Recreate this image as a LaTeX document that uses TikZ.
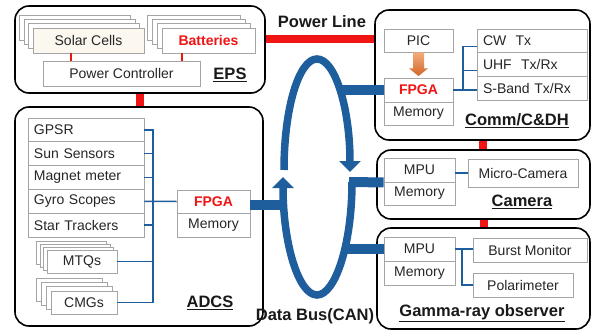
\documentclass[tikz,border=0pt]{standalone}
\usepackage{fontspec}
\setmainfont{Liberation Sans}
\usetikzlibrary{arrows.meta,calc}
\definecolor{busblue}{RGB}{30,94,156}
\definecolor{boxgray}{RGB}{165,165,165}
\definecolor{pwrred}{RGB}{240,20,20}
\definecolor{txtc}{RGB}{38,38,38}
\definecolor{solarfill}{RGB}{252,248,240}
\definecolor{orgtop}{RGB}{244,172,122}
\definecolor{orgbot}{RGB}{208,102,42}
\begin{document}
\begin{tikzpicture}[x=1pt,y=-1pt,
  cont/.style={draw=black,line width=1.6pt,rounded corners=14pt,fill=white,inner sep=0pt},
  unit/.style={draw=boxgray,line width=0.9pt,fill=white,inner sep=0pt,text=txtc,
               font=\fontsize{14}{16}\selectfont},
  lunit/.style={unit,align=left,text width=#1,inner xsep=6pt},
  back/.style={draw=boxgray,line width=0.9pt,fill=white},
  hot/.style={text=pwrred,font=\bfseries\fontsize{14}{16}\selectfont},
  tag/.style={font=\bfseries\fontsize{16.5}{18}\selectfont,text=black!90,inner sep=0pt},
  pline/.style={draw=pwrred,line width=8pt},
  plink/.style={draw=pwrred,line width=1.5pt},
  dbus/.style={draw=busblue,line width=10pt},
  ring/.style={draw=busblue,line width=7.5pt},
  sig/.style={draw=busblue,line width=1.5pt},
]
\useasboundingbox (0,0) rectangle (592,332);

% ---------- subsystem frames ----------
\node[cont,minimum width=250pt,minimum height=87pt] (eps) at (140,49.5) {};
\node[cont,minimum width=248pt,minimum height=219pt] (adcs) at (139,216.5) {};
\node[cont,minimum width=215pt,minimum height=130pt] (comm) at (482.5,75) {};
\node[cont,minimum width=213pt,minimum height=69pt] (cam) at (483.5,184.5) {};
\node[cont,minimum width=213pt,minimum height=101pt] (gam) at (483.5,278.5) {};

% ---------- power distribution ----------
\coordinate (plY) at (0,39);
\draw[pline] (eps.east |- plY) -- (comm.west |- plY);
\draw[pline] (eps.south) -- (eps.south |- adcs.north);
\draw[pline] (comm.south) -- (comm.south |- cam.north);
\draw[pline] (cam.south) -- (cam.south |- gam.north);

% ---------- EPS ----------
\foreach \k in {3,2,1}
  \filldraw[back] (33-4.5*\k,28-4.3*\k) rectangle (144-4.5*\k,53-4.3*\k);
\node[unit,fill=solarfill,minimum width=111pt,minimum height=25pt] (solar) at (88.5,40.5) {Solar Cells};
\foreach \k in {3,2,1}
  \filldraw[back] (162-4.7*\k,28-4.3*\k) rectangle (255-4.7*\k,53-4.3*\k);
\node[unit,hot,minimum width=93pt,minimum height=25pt] (batt) at (208.5,40.5) {Batteries};
\node[unit,minimum width=157pt,minimum height=25pt] (pc) at (121.5,73.5) {Power Controller};
\coordinate (s1) at (71,0);
\coordinate (s2) at (182,0);
\draw[plink] (solar.south -| s1) -- (pc.north -| s1);
\draw[plink] (batt.south -| s2) -- (pc.north -| s2);
\node[tag] (epsl) at (230,75) {\underline{EPS}};

% ---------- Comm / C&DH ----------
\node[unit,minimum width=69pt,minimum height=23pt] (pic) at (418.5,40.5) {PIC};
\node[unit,hot,minimum width=69pt,minimum height=24pt] (cfpga) at (418.5,90) {FPGA};
\node[unit,minimum width=69pt,minimum height=23pt] (cmem) at (418.5,113.5) {Memory};
\node[lunit=98pt,minimum height=23pt] (cw) at (532,40.5) {CW\ \ Tx};
\node[lunit=98pt,minimum height=24pt] (uhf) at (532,64) {UHF\ \ Tx/Rx};
\node[lunit=98pt,minimum height=24pt] (sband) at (532,88) {S-Band Tx/Rx};
\shade[top color=orgtop,bottom color=orgbot]
  ($(pic.south)+(-5.5,0)$) -- ++(11,0) -- ++(0,16) -- ++(4,0)
  -- ($(cfpga.north)+(0,-1.5)$) -- ($(pic.south)+(-9.5,16)$) -- ++(4,0) -- cycle;
\coordinate (cb) at (463,90);
\draw[sig] (cfpga.east) -- (sband.west |- cfpga.east);
\draw[sig] (cb) |- ($(cw.south west)+(0,-6)$);
\draw[sig] ($(uhf.south west)+(0,-6)$) -- ++(-14,0);
\node[tag] (comml) at (517,121) {\underline{Comm/C\&DH}};

% ---------- Camera ----------
\node[unit,minimum width=71pt,minimum height=24pt] (cmpu) at (419.5,170) {MPU};
\node[unit,minimum width=71pt,minimum height=23pt] (cammem) at (419.5,193.5) {Memory};
\node[unit,minimum width=110pt,minimum height=28pt] (micro) at (523,173) {Micro-Camera};
\draw[sig] (micro.west -| cmpu.east) -- (micro.west);
\node[tag] (caml) at (522,202) {\underline{Camera}};

% ---------- Gamma-ray observer ----------
\node[unit,minimum width=71pt,minimum height=24pt] (gmpu) at (419.5,249) {MPU};
\node[unit,minimum width=71pt,minimum height=24pt] (gmem) at (419.5,273) {Memory};
\node[unit,minimum width=114pt,minimum height=24pt] (burst) at (530,250) {Burst Monitor};
\node[unit,minimum width=100pt,minimum height=24pt] (pol) at (523,285) {Polarimeter};
\coordinate (gb) at (462,0);
\draw[sig] (gmpu.east) -- (gmpu.east -| burst.west);
\draw[sig] (gmpu.east -| gb) |- (pol.west);
\node[tag] (gaml) at (482,313) {\underline{Gamma-ray observer}};

% ---------- ADCS ----------
\node[lunit=104pt,minimum height=23.8pt] (gpsr) at (86,129.9) {GPSR};
\node[lunit=104pt,minimum height=23.8pt] (sun) at (86,153.7) {Sun Sensors};
\node[lunit=104pt,minimum height=23.8pt] (mag) at (86,177.5) {Magnet meter};
\node[lunit=104pt,minimum height=23.8pt] (gyro) at (86,201.3) {Gyro Scopes};
\node[lunit=104pt,minimum height=23.8pt] (star) at (86,225.1) {Star Trackers};
\foreach \k in {3,2,1}
  \filldraw[back] (47-3.4*\k,250-3*\k) rectangle (117-3.4*\k,273-3*\k);
\node[unit,minimum width=70pt,minimum height=23pt] (mtq) at (82,261.5) {MTQs};
\foreach \k in {3,2,1}
  \filldraw[back] (51-4.7*\k,291-4.3*\k) rectangle (117-4.7*\k,314-4.3*\k);
\node[unit,minimum width=66pt,minimum height=23pt] (cmg) at (84,302.5) {CMGs};
\node[unit,hot,minimum width=73pt,minimum height=23pt] (afpga) at (213.5,201.5) {FPGA};
\node[unit,minimum width=73pt,minimum height=24pt] (amem) at (213.5,225) {Memory};
\coordinate (ab) at (153,0);
\draw[sig] (gpsr.east) -| (ab |- cmg.east) -- (cmg.east);
\draw[sig] (sun.east) -- (sun.east -| ab);
\draw[sig] (mag.east) -- (mag.east -| ab);
\draw[sig] (star.east) -- (star.east -| ab);
\draw[sig] (mtq.east) -- (mtq.east -| ab);
\draw[sig] (gyro.east) -- (afpga.west);
\node[tag] (adcsl) at (210,303) {\underline{ADCS}};

% ---------- data bus ring ----------
\draw[ring,-{Triangle[width=21pt,length=11pt]}]
  (284,170) .. controls (284,108.7) and (298.8,59) .. (317,59)
  .. controls (335.2,59) and (350,108.7) .. (350,172);
\draw[ring,-{Triangle[width=21pt,length=11pt]}]
  (352,182) .. controls (352,244.4) and (335.2,295) .. (317,295)
  .. controls (298.8,295) and (283,244.4) .. (283,177);
\coordinate (rA) at (284,205);
\coordinate (rC) at (339,90);
\coordinate (rM) at (349,182);
\coordinate (rG) at (345,249);
\draw[dbus] ($(afpga.east)+(0,3.5)$) -- (rA);
\draw[dbus] (rC) -- (cfpga.west);
\draw[dbus] (rM) -- (cmpu.south west);
\draw[dbus] (rG) -- (gmpu.west);

% ---------- bus labels ----------
\node[tag] (pwl) at (322,22) {Power Line};
\node[tag] (dbl) at (315,316) {Data Bus(CAN)};
\end{tikzpicture}
\end{document}
